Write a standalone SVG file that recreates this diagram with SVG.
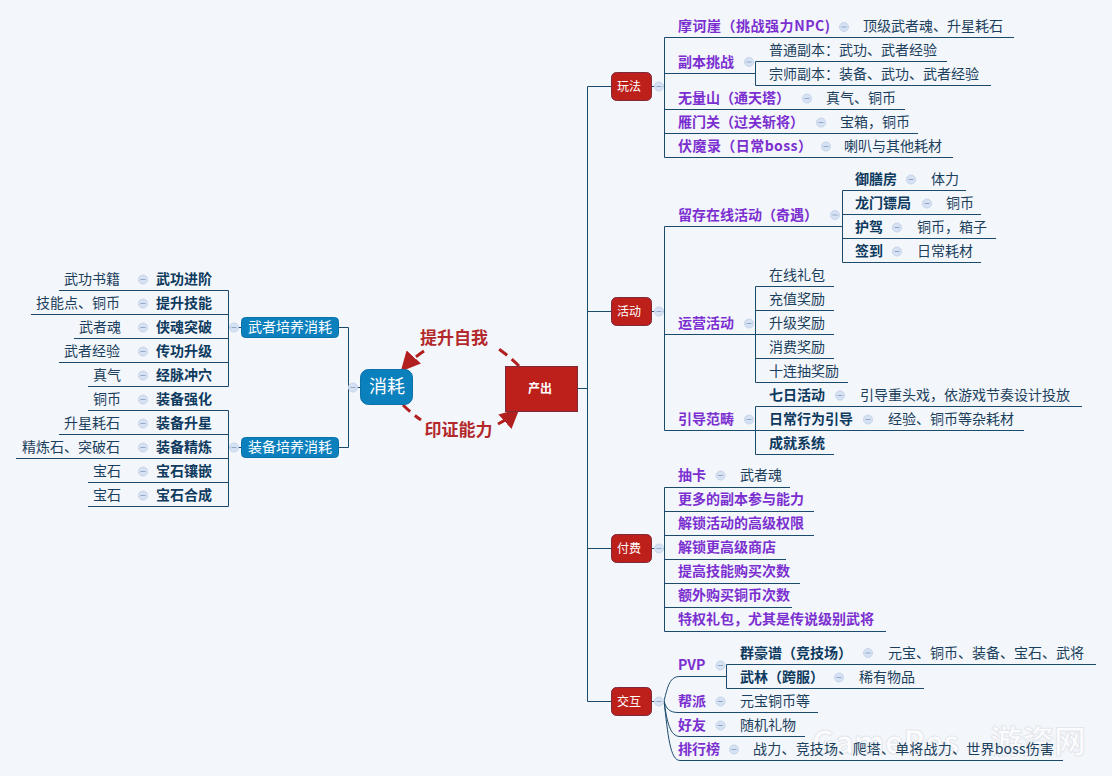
<svg xmlns="http://www.w3.org/2000/svg" width="1112" height="776" viewBox="0 0 1112 776">
<style>
text{font-family:"Noto Sans CJK SC","Liberation Sans",sans-serif;font-size:14px}
.p{fill:#7b2fd0;font-weight:700}
.b{fill:#0d3a5e;font-weight:700}
.d{fill:#1b3f5c}
.e{text-anchor:end}
.w{fill:#fff;text-anchor:middle}
.l{fill:none;stroke:#1a4a6c;stroke-width:1}
.r{fill:#bd1f1b;stroke:#7d2a3a;stroke-width:1}
.c{fill:#0a80bd;stroke:#0a72a8;stroke-width:1}
.dash{fill:none;stroke:#b21f1f;stroke-width:3;stroke-dasharray:10 6}
.big{fill:#b3282a;font-size:17px;font-weight:700;text-anchor:middle}
</style>
<defs>
<g id="tg"><circle r="4.5" fill="#d6e2f3" stroke="#c6d4ea"/><path d="M-2.5 0H2.5" stroke="#93a8c6" fill="none"/></g>
<marker id="ah" viewBox="0 0 10 10" refX="9" refY="5" markerWidth="6.500" markerHeight="6.500" orient="auto"><path d="M0 0L10 5L0 10Z" fill="#b21f1f"/></marker>
</defs>
<rect width="1112" height="776" fill="#f3f6fb"/>
<g id="connectors">
<path class="l" d="M578 388.5H587.5M587.5 86.5V701.5M587.5 86.5H611M587.5 311.5H611M587.5 548.5H611M587.5 701.5H611M652 86.5H664M652 311.5H664M652 548.5H664M652 701.5H664"/>
<path class="l" d="M664.5 37.5V157.5M664.5 37.5H1014M664.5 73.5H755M755.5 61.5V85.5M755.5 61.5H947M755.5 85.5H991M664.5 109.5H905M664.5 133.5H918M664.5 157.5H953"/>
<path class="l" d="M664.5 226.5V430.5M664.5 226.5H842M842.5 190.5V262.5M842.5 190.5H966M842.5 214.5H981M842.5 238.5H996M842.5 262.5H981M664.5 334.5H755M755.5 286.5V382.5M755.5 286.5H834M755.5 310.5H834M755.5 334.5H834M755.5 358.5H834M755.5 382.5H848M664.5 430.5H755M755.5 406.5V454.5M755.5 406.5H1082M755.5 430.5H1024M755.5 454.5H834"/>
<path class="l" d="M664.5 487.5V631.5M664.5 487.5H790M664.5 511.5H814M664.5 535.5H814M664.5 559.5H786M664.5 583.5H800M664.5 607.5H792M664.5 631.5H886"/>
<path class="l" d="M664 701C668 685 670 676.5 680 676.5H726.5M726.5 664.5V688.5M726.5 664.5H1096M726.5 688.5H924M664 701C666 708 669 712.5 678 712.5H818M664 701C667 722 670 736.5 680 736.5H805M664 701C668 735 670 760.5 680 760.5H1063"/>
<path class="l" d="M228.5 290.5V386.5M59 290.5H228.5M31 314.5H228.5M74 338.5H228.5M59 362.5H228.5M88 386.5H228.5M228.5 410.5V506.5M88 410.5H228.5M59 434.5H228.5M16 458.5H228.5M88 482.5H228.5M88 506.5H228.5M228.5 327.5H241M228.5 447.5H241M339 327.5H348.5V447.5H339M348.5 387.5H360"/>
<path class="dash" d="M519 366Q508 355 496 347"/>
<path class="dash" d="M424 351Q412 359 402 370" marker-end="url(#ah)"/>
<path class="dash" d="M403 405Q411 413 421 420"/>
<path class="dash" d="M498 424Q508 419 518 410" marker-end="url(#ah)"/>
</g>
<g id="n-chanchu"><rect class="r" x="505.500" y="366.500" width="72" height="45"/><text class="w" x="540" y="393" style="font-size:12px;font-weight:700">产出</text></g>
<g id="n-xiaohao"><rect class="c" x="360.500" y="369.500" width="52" height="35" rx="8"/><text class="w" x="387" y="393" style="font-size:18px">消耗</text><use href="#tg" x="353" y="387.500"/></g>
<g id="lbl-tisheng"><text class="big" x="454" y="344">提升自我</text></g>
<g id="lbl-yinzheng"><text class="big" x="458.500" y="436">印证能力</text></g>

<g id="n-wanfa"><rect class="r" x="611.500" y="72.500" width="40" height="28" rx="5"/><text class="w" x="629" y="91" style="font-size:12px">玩法</text><use href="#tg" x="659" y="86.500"/></g>
<g id="n-huodong"><rect class="r" x="611.500" y="297.500" width="40" height="28" rx="5"/><text class="w" x="629" y="316" style="font-size:12px">活动</text><use href="#tg" x="659" y="311.500"/></g>
<g id="n-fufei"><rect class="r" x="611.500" y="534.500" width="40" height="28" rx="5"/><text class="w" x="629" y="553" style="font-size:12px">付费</text><use href="#tg" x="659" y="548.500"/></g>
<g id="n-jiaohu"><rect class="r" x="611.500" y="687.500" width="40" height="28" rx="5"/><text class="w" x="629" y="706" style="font-size:12px">交互</text><use href="#tg" x="659" y="701.500"/></g>

<g id="n-mohe"><text class="p" x="678" y="31" textLength="152">摩诃崖（挑战强力NPC)</text><use href="#tg" x="844" y="27"/><text class="d" x="863" y="31">顶级武者魂、升星耗石</text></g>
<g id="n-fuben"><text class="p" x="678" y="67">副本挑战</text><use href="#tg" x="749" y="62"/></g>
<g id="n-putong"><text class="d" x="769" y="55">普通副本：武功、武者经验</text></g>
<g id="n-zongshi"><text class="d" x="769" y="79">宗师副本：装备、武功、武者经验</text></g>
<g id="n-wuliang"><text class="p" x="678" y="103">无量山（通天塔）</text><use href="#tg" x="807" y="98.500"/><text class="d" x="826" y="103">真气、铜币</text></g>
<g id="n-yanmen"><text class="p" x="678" y="127">雁门关（过关斩将）</text><use href="#tg" x="821" y="122.500"/><text class="d" x="840" y="127">宝箱，铜币</text></g>
<g id="n-fumo"><text class="p" x="678" y="151" textLength="134">伏魔录（日常boss）</text><use href="#tg" x="826" y="146.500"/><text class="d" x="844" y="151">喇叭与其他耗材</text></g>

<g id="n-liucun"><text class="p" x="678" y="220">留存在线活动（奇遇）</text><use href="#tg" x="835" y="215"/></g>
<g id="n-yushan"><text class="b" x="855" y="184">御膳房</text><use href="#tg" x="911" y="179.500"/><text class="d" x="931" y="184">体力</text></g>
<g id="n-longmen"><text class="b" x="855" y="208">龙门镖局</text><use href="#tg" x="927" y="203.500"/><text class="d" x="946" y="208">铜币</text></g>
<g id="n-hujia"><text class="b" x="855" y="232">护驾</text><use href="#tg" x="897" y="227.500"/><text class="d" x="917" y="232">铜币，箱子</text></g>
<g id="n-qiandao"><text class="b" x="855" y="256">签到</text><use href="#tg" x="897" y="251.500"/><text class="d" x="917" y="256">日常耗材</text></g>
<g id="n-yunying"><text class="p" x="678" y="328">运营活动</text><use href="#tg" x="749" y="323.500"/></g>
<g id="n-zaixian"><text class="d" x="769" y="280">在线礼包</text></g>
<g id="n-chongzhi"><text class="d" x="769" y="304">充值奖励</text></g>
<g id="n-shengji"><text class="d" x="769" y="328">升级奖励</text></g>
<g id="n-xiaofei"><text class="d" x="769" y="352">消费奖励</text></g>
<g id="n-shilian"><text class="d" x="769" y="376">十连抽奖励</text></g>
<g id="n-yindao"><text class="p" x="678" y="424">引导范畴</text><use href="#tg" x="749" y="419.500"/></g>
<g id="n-qiri"><text class="b" x="769" y="400">七日活动</text><use href="#tg" x="840" y="395.500"/><text class="d" x="860" y="400">引导重头戏，依游戏节奏设计投放</text></g>
<g id="n-richang"><text class="b" x="769" y="424">日常行为引导</text><use href="#tg" x="868" y="419.500"/><text class="d" x="888" y="424">经验、铜币等杂耗材</text></g>
<g id="n-chengjiu"><text class="b" x="769" y="448">成就系统</text></g>

<g id="n-chouka"><text class="p" x="678" y="480">抽卡</text><use href="#tg" x="720.500" y="475.500"/><text class="d" x="740" y="480">武者魂</text></g>
<g id="n-gengduo"><text class="p" x="678" y="504">更多的副本参与能力</text></g>
<g id="n-jiesuo1"><text class="p" x="678" y="528">解锁活动的高级权限</text></g>
<g id="n-jiesuo2"><text class="p" x="678" y="552">解锁更高级商店</text></g>
<g id="n-tigao"><text class="p" x="678" y="576">提高技能购买次数</text></g>
<g id="n-ewai"><text class="p" x="678" y="600">额外购买铜币次数</text></g>
<g id="n-tequan"><text class="p" x="678" y="624">特权礼包，尤其是传说级别武将</text></g>

<g id="n-pvp"><text class="p" x="678" y="670">PVP</text><use href="#tg" x="720.500" y="665.500"/></g>
<g id="n-qunhao"><text class="b" x="740" y="658">群豪谱（竞技场）</text><use href="#tg" x="868" y="653"/><text class="d" x="888" y="658">元宝、铜币、装备、宝石、武将</text></g>
<g id="n-wulin"><text class="b" x="740" y="682">武林（跨服）</text><use href="#tg" x="839" y="677.500"/><text class="d" x="859" y="682">稀有物品</text></g>
<g id="n-bangpai"><text class="p" x="678" y="706">帮派</text><use href="#tg" x="720.500" y="701.500"/><text class="d" x="740" y="706">元宝铜币等</text></g>
<g id="n-haoyou"><text class="p" x="678" y="730">好友</text><use href="#tg" x="720.500" y="725.500"/><text class="d" x="740" y="730">随机礼物</text></g>

<g id="watermark" opacity="0.75"><text x="812" y="754" style="font-size:32px;font-weight:700;fill:#fff;stroke:#dfe3e8;stroke-width:1">GameRes</text><text x="990" y="753" style="font-size:32px;font-weight:700;fill:#fff;stroke:#dfe3e8;stroke-width:1">游资网</text></g>
<g id="n-paihang"><text class="p" x="678" y="754">排行榜</text><use href="#tg" x="734" y="749.500"/><text class="d" x="753" y="754" textLength="301">战力、竞技场、爬塔、单将战力、世界boss伤害</text></g>

<g id="n-wuzhe"><rect class="c" x="241.500" y="317.500" width="97" height="20" rx="4"/><text class="w" x="290" y="332">武者培养消耗</text><use href="#tg" x="234" y="327.500"/></g>
<g id="n-zhuangbei"><rect class="c" x="241.500" y="437.500" width="97" height="20" rx="4"/><text class="w" x="290" y="452">装备培养消耗</text><use href="#tg" x="234" y="447.500"/></g>

<g id="n-l1"><text class="b" x="156" y="284">武功进阶</text><use href="#tg" x="143" y="279.500"/><text class="d e" x="120" y="284">武功书籍</text></g>
<g id="n-l2"><text class="b" x="156" y="308">提升技能</text><use href="#tg" x="143" y="303.500"/><text class="d e" x="120" y="308">技能点、铜币</text></g>
<g id="n-l3"><text class="b" x="156" y="332">侠魂突破</text><use href="#tg" x="143" y="327.500"/><text class="d e" x="121" y="332">武者魂</text></g>
<g id="n-l4"><text class="b" x="156" y="356">传功升级</text><use href="#tg" x="143" y="351.500"/><text class="d e" x="120" y="356">武者经验</text></g>
<g id="n-l5"><text class="b" x="156" y="380">经脉冲穴</text><use href="#tg" x="143" y="375.500"/><text class="d e" x="121" y="380">真气</text></g>
<g id="n-l6"><text class="b" x="156" y="404">装备强化</text><use href="#tg" x="143" y="399.500"/><text class="d e" x="121" y="404">铜币</text></g>
<g id="n-l7"><text class="b" x="156" y="428">装备升星</text><use href="#tg" x="143" y="423.500"/><text class="d e" x="120" y="428">升星耗石</text></g>
<g id="n-l8"><text class="b" x="156" y="452">装备精炼</text><use href="#tg" x="143" y="447.500"/><text class="d e" x="120" y="452">精炼石、突破石</text></g>
<g id="n-l9"><text class="b" x="156" y="476">宝石镶嵌</text><use href="#tg" x="143" y="471.500"/><text class="d e" x="121" y="476">宝石</text></g>
<g id="n-l10"><text class="b" x="156" y="500">宝石合成</text><use href="#tg" x="143" y="495.500"/><text class="d e" x="121" y="500">宝石</text></g>
</svg>
